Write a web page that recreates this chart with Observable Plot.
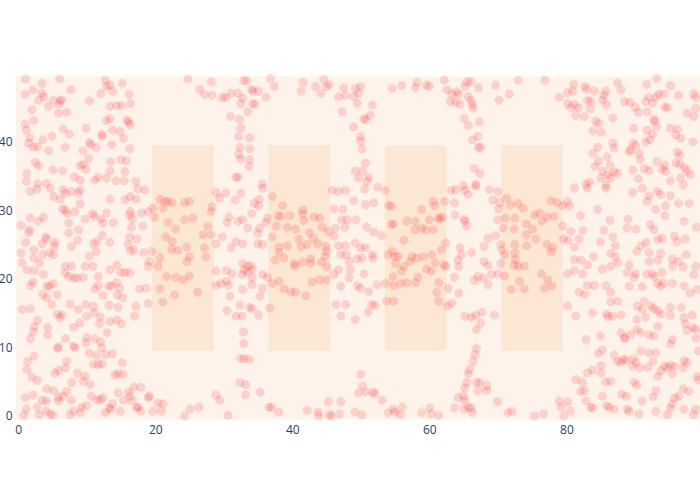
<!DOCTYPE html>
<html><head><meta charset="utf-8">
<script src="https://cdn.jsdelivr.net/npm/d3@7"></script>
<script src="https://cdn.jsdelivr.net/npm/@observablehq/plot@0.6"></script>
<style>body{margin:0;background:#fff;}</style>
</head><body><div id="chart"></div>
<script>
const xTicks = [0, 20, 40, 60, 80];
const yTicks = [0, 10, 20, 30, 40];
const rectX1 = [19.5, 36.5, 53.5, 70.5];
const rectX2 = [28.5, 45.5, 62.5, 79.5];
const rectY1 = [9.5, 9.5, 9.5, 9.5];
const rectY2 = [39.5, 39.5, 39.5, 39.5];

const ptsTopLeft = [[0.96,49.3],[3.38,48.65],[5.95,49.3],[12.58,49.14],[13.3,48.4],[15.1,48.65],[2.08,47.7],[0.96,47.05],[3.38,47.2],[2.9,46.2],[3.63,46.7],[5.08,46.2],[6.05,46.1],[6.3,46.2],[7.6,47.7],[10.3,46.1],[11.95,47.2],[12.8,48.2],[13.7,47.5],[16.1,47.05],[16.3,45.7],[13.3,45.3],[14.3,45.4],[15.0,45.4],[4.35,45.3],[5.8,45.6],[5.8,44.3],[7.0,44.4],[1.93,44.8],[0.96,42.7],[1.1,41.8],[2.2,43.2],[6.5,42.0],[7.4,41.2],[9.8,42.1],[12.1,41.2],[12.2,40.9],[12.8,43.2],[13.3,43.5],[13.7,41.8],[14.8,41.6],[15.3,40.6],[15.8,43.3],[16.0,43.0],[16.3,42.6],[1.6,40.7],[1.45,39.9],[2.1,39.3],[2.75,39.4],[3.5,40.4],[4.8,40.9],[4.35,38.8],[6.77,39.3],[9.4,38.8],[10.3,40.0],[10.5,39.7],[11.3,39.3],[13.55,39.7],[16.2,39.1],[10.2,37.7],[8.95,36.6],[9.4,36.8],[9.8,36.1],[2.4,37.1],[2.9,36.6],[5.0,36.0],[6.4,35.85],[8.1,35.0],[8.95,34.5],[11.1,34.5],[11.6,34.9],[12.8,34.8],[13.3,35.85],[13.4,37.2],[14.9,37.5],[15.7,37.3],[15.5,35.75],[14.2,34.4],[15.4,34.4],[1.2,35.5],[1.1,34.3],[2.75,34.0],[4.0,34.0],[17.1,34.3]];

const ptsTopMidLeft = [[24.7,49.3],[28.1,48.9],[26.4,47.8],[27.1,47.0],[28.2,46.9],[29.7,46.6],[30.2,46.6],[31.0,47.2],[32.0,47.2],[32.7,46.5],[32.4,45.7],[32.8,49.1],[33.3,49.0],[34.0,47.8],[34.2,47.5],[35.0,47.5],[34.1,45.7],[34.5,45.6],[33.4,44.5],[36.1,46.6],[36.7,49.4],[37.3,48.2],[41.2,47.5],[41.5,48.8],[43.3,48.2],[44.1,47.2],[44.9,48.2],[45.3,48.5],[44.5,49.3],[46.7,46.7],[47.4,48.0],[47.7,46.9],[47.2,44.5],[30.9,43.8],[32.2,43.4],[32.4,42.1],[32.1,40.9],[33.7,40.7],[32.3,39.3],[33.7,39.1],[32.1,38.3],[32.4,37.6],[33.7,37.5],[33.6,36.5],[31.7,34.9],[32.0,34.9],[35.5,33.9]];

const ptsTopMidRight = [[49.1,47.9],[49.9,48.2],[49.6,47.2],[48.9,46.7],[49.4,45.7],[51.6,45.5],[50.4,43.5],[50.6,43.3],[51.3,44.0],[48.9,42.3],[49.9,40.9],[49.9,40.2],[50.1,39.1],[50.6,37.0],[49.1,35.8],[50.2,35.8],[49.6,34.8],[51.1,34.9],[50.8,34.3],[54.5,47.9],[55.9,48.3],[58.1,48.8],[57.9,48.0],[59.5,48.4],[59.9,48.2],[62.1,49.1],[62.5,47.7],[63.2,47.1],[63.9,47.4],[64.2,47.0],[65.1,48.2],[65.4,48.9],[66.0,48.9],[67.1,48.0],[63.0,46.0],[63.7,45.9],[64.4,45.6],[65.6,46.7],[66.0,46.2],[66.2,45.6],[66.3,45.0],[69.6,48.4],[71.6,47.1],[70.1,46.2],[72.9,49.1],[65.0,43.5],[65.6,42.5],[67.2,43.0],[66.2,40.4],[67.0,40.9],[67.1,39.3],[67.4,39.3],[66.5,36.2],[67.3,35.5],[66.7,33.9],[64.9,33.7]];

const ptsTopRight = [[76.8,49.1],[81.0,48.5],[80.85,47.5],[80.1,47.3],[78.9,46.6],[80.1,45.7],[81.1,45.6],[80.6,45.1],[81.7,45.1],[81.3,44.0],[82.6,48.2],[82.9,47.8],[82.5,43.8],[83.0,46.2],[83.5,46.0],[83.4,44.9],[84.0,47.5],[85.4,46.9],[85.2,46.2],[85.7,47.5],[85.8,45.5],[86.7,43.6],[87.4,48.7],[87.9,47.7],[88.4,46.0],[89.2,45.9],[90.0,45.2],[90.4,44.4],[91.5,46.0],[92.0,46.6],[92.5,45.7],[93.0,46.6],[93.4,47.1],[94.2,47.1],[91.7,48.5],[93.1,49.4],[95.1,48.3],[96.3,46.9],[94.3,45.2],[94.65,45.1],[91.7,44.5],[92.8,43.1],[92.7,43.4],[98.5,47.1],[98.8,46.6],[98.8,45.0],[98.5,43.8],[97.55,44.3],[84.2,43.1],[84.7,42.8],[83.8,41.7],[85.0,41.5],[86.7,39.9],[86.9,39.2],[89.7,42.1],[91.7,41.8],[92.5,41.2],[93.1,42.3],[95.1,42.1],[96.1,42.0],[95.9,41.1],[96.6,40.6],[98.4,40.1],[89.6,39.9],[90.05,39.6],[89.3,38.9],[89.1,38.7],[90.5,38.4],[91.5,40.1],[92.1,40.4],[90.7,37.5],[84.5,39.3],[83.8,38.4],[85.9,37.9],[84.6,37.3],[84.1,36.5],[86.3,36.7],[85.2,35.8],[86.0,35.3],[86.9,35.7],[87.4,35.5],[86.4,34.8],[85.0,34.8],[85.7,33.8],[83.3,34.2],[82.8,33.9],[89.6,36.0],[90.4,34.7],[91.3,36.2],[92.0,35.9],[93.1,37.2],[94.3,36.7],[93.9,36.1],[94.4,35.8],[96.1,38.6],[96.5,38.1],[95.9,37.0],[96.5,36.8],[97.2,36.3],[97.5,35.8],[95.1,34.4],[96.6,34.8],[97.0,33.8],[98.0,35.3]];

const ptsMidLeft = [[1.7,32.85],[2.66,33.2],[4.6,33.3],[6.5,33.1],[6.8,32.6],[7.7,32.85],[8.95,33.1],[8.7,32.6],[5.1,32.1],[6.05,31.7],[8.95,31.05],[13.3,31.7],[15.5,31.6],[16.2,32.1],[17.1,31.7],[17.4,33.2],[18.4,33.1],[20.6,31.7],[21.3,31.4],[21.8,31.4],[22.4,31.2],[21.05,30.4],[6.8,30.1],[7.1,29.6],[8.2,29.9],[6.4,30.3],[9.7,28.8],[10.8,29.6],[11.0,29.2],[12.0,28.8],[12.8,29.7],[13.8,28.3],[12.3,28.2],[16.3,29.9],[16.2,29.4],[16.6,28.8],[17.9,29.7],[18.9,29.9],[19.6,30.4],[19.8,29.1],[18.1,27.8],[16.45,27.6],[21.8,28.3],[22.9,27.35],[21.5,26.2],[22.4,25.5],[1.7,28.95],[2.9,28.5],[3.6,29.1],[0.33,27.85],[1.6,27.25],[1.45,26.8],[7.3,28.2],[7.3,26.8],[8.7,27.2],[3.9,26.2],[4.1,25.9],[1.0,25.4],[3.4,25.2],[5.3,25.4],[5.2,24.8],[7.7,24.8],[8.6,25.7],[11.4,25.5],[10.9,25.2],[12.2,26.4],[13.3,25.4],[16.0,25.1],[16.2,26.2],[17.2,25.9],[16.3,24.1],[16.8,24.3],[18.2,23.9],[19.4,24.1],[22.3,24.4],[23.2,24.2],[20.6,23.1],[19.0,22.6],[18.9,21.9],[20.3,21.9],[0.33,23.85],[0.48,22.4],[2.2,24.3],[2.2,23.1],[3.05,22.4],[3.5,23.6],[4.5,23.9],[5.0,23.6],[10.3,23.35],[11.3,24.1],[9.7,21.9],[10.8,21.9],[13.3,21.4],[14.3,22.1],[14.9,21.0],[15.5,21.0],[16.2,21.0],[6.77,21.9],[7.7,21.9],[6.77,20.9],[7.3,20.4],[8.0,20.2],[8.5,20.2],[9.4,20.3],[11.6,20.4],[1.2,21.4],[2.3,21.3],[3.6,20.7],[1.7,19.1],[2.1,19.6],[4.1,19.0],[4.5,19.0],[5.0,19.4],[3.5,17.75],[4.1,17.3],[5.6,17.75],[11.1,18.6],[11.6,19.1],[12.3,17.6],[13.1,19.0],[13.55,19.0],[14.3,19.5],[14.7,18.7],[14.4,17.75],[15.2,17.3],[17.6,18.6],[18.6,18.7],[21.6,20.4],[22.9,20.3],[22.75,17.75],[20.6,18.6]];

const ptsMidMidLeft = [[24.9,31.4],[24.2,31.2],[28.8,32.7],[30.2,32.6],[29.3,31.9],[28.2,30.6],[28.1,29.9],[31.6,31.6],[32.4,32.6],[34.4,31.1],[35.1,31.7],[35.0,30.75],[35.6,33.3],[37.0,32.1],[34.0,29.6],[30.7,29.1],[30.4,28.3],[32.0,28.5],[32.7,28.7],[33.4,27.5],[35.1,27.5],[34.9,26.7],[36.3,28.95],[36.0,28.3],[38.5,30.75],[38.3,29.2],[37.8,29.3],[39.6,29.3],[37.6,27.8],[39.2,27.6],[40.4,27.35],[41.5,30.1],[41.6,28.6],[41.4,29.6],[43.1,29.1],[43.9,28.95],[44.3,27.6],[45.2,27.0],[42.4,26.8],[40.9,25.9],[42.1,25.1],[41.2,24.8],[43.0,26.0],[43.6,25.2],[45.75,33.0],[46.7,32.85],[47.7,33.0],[46.0,30.3],[47.3,30.2],[46.2,27.5],[47.6,27.6],[47.1,28.7],[47.9,28.7],[46.0,26.3],[46.7,24.9],[47.7,24.9],[47.0,23.6],[47.8,23.6],[48.2,22.6],[25.4,28.95],[24.2,28.7],[27.6,27.7],[26.9,26.5],[28.1,26.5],[28.8,25.2],[29.7,26.2],[31.0,24.6],[31.7,25.5],[32.7,25.2],[34.9,25.2],[35.6,25.1],[37.0,26.2],[24.5,24.7],[27.1,24.6],[27.3,23.3],[24.9,23.3],[24.5,22.6],[38.0,24.7],[39.2,24.9],[38.0,23.9],[37.4,22.8],[38.7,23.1],[40.2,22.3],[40.3,21.9],[41.4,22.5],[42.6,23.0],[42.6,22.3],[44.2,22.5],[44.8,24.8],[44.9,24.1],[44.7,23.35],[45.0,21.8],[28.8,21.2],[30.3,21.3],[31.1,20.8],[32.7,22.3],[33.4,21.9],[33.9,22.0],[34.1,21.4],[32.6,20.7],[34.1,20.2],[35.6,20.7],[36.3,20.3],[37.0,19.4],[38.0,19.7],[38.7,18.6],[39.7,18.2],[40.4,18.1],[41.9,17.6],[42.8,19.6],[43.9,19.9],[44.9,19.9],[46.0,20.7],[47.0,19.0],[48.2,20.2],[48.4,21.4],[46.7,21.4],[24.9,20.5],[24.0,19.9],[26.1,18.1],[28.8,19.1],[29.5,19.4],[30.6,19.1],[30.8,17.5],[30.3,19.7],[32.7,18.5],[34.0,19.2],[35.6,18.7],[35.2,17.5],[32.9,21.4],[33.4,21.0]];

const ptsMidMidRight = [[50.5,33.2],[52.4,33.5],[53.5,33.0],[48.9,31.5],[50.6,30.9],[51.8,31.2],[54.0,30.8],[54.4,30.7],[60.5,31.4],[60.7,30.75],[62.2,31.4],[63.6,31.2],[63.1,33.0],[63.8,33.1],[65.1,33.0],[65.6,32.4],[66.7,33.6],[68.7,33.1],[69.95,32.85],[69.2,31.6],[70.2,31.2],[71.2,31.9],[71.8,30.9],[72.9,31.1],[70.05,30.3],[58.8,30.2],[56.65,28.5],[57.9,28.5],[57.8,27.25],[58.8,27.5],[59.4,27.2],[59.9,28.7],[60.5,27.25],[61.2,28.95],[61.5,28.8],[61.8,29.1],[63.7,29.4],[65.1,28.5],[65.4,27.85],[65.0,28.8],[49.2,28.7],[50.8,27.6],[51.8,26.9],[52.9,26.4],[54.4,28.0],[54.7,28.1],[56.2,25.7],[57.4,23.3],[59.1,23.3],[60.3,23.6],[61.7,24.3],[62.3,25.3],[62.1,22.1],[64.4,24.6],[64.6,23.6],[64.1,22.8],[64.2,21.9],[66.1,23.9],[67.9,24.8],[68.5,26.0],[69.6,26.4],[69.9,28.7],[71.0,28.95],[72.4,28.95],[70.7,27.5],[72.3,27.35],[70.35,25.1],[70.5,24.3],[70.9,23.6],[72.4,25.1],[72.4,23.85],[72.3,22.1],[72.9,21.9],[72.5,22.9],[70.35,22.3],[67.9,22.6],[68.5,22.0],[69.0,20.7],[69.95,20.8],[67.8,20.2],[68.5,19.2],[67.0,20.4],[66.5,19.85],[49.1,25.3],[49.9,24.6],[50.6,24.6],[51.6,23.6],[51.7,23.1],[49.4,23.0],[50.1,23.1],[50.4,20.8],[53.9,23.6],[54.5,24.1],[54.9,23.35],[55.4,23.35],[55.0,22.3],[57.1,22.6],[55.9,21.2],[56.2,21.9],[58.1,23.1],[59.5,21.5],[60.8,22.4],[60.2,21.2],[62.3,21.9],[61.3,19.5],[62.7,18.7],[64.2,18.0],[63.6,20.3],[58.3,20.3],[57.9,19.5],[56.65,19.5],[55.7,19.4],[54.6,20.4],[54.7,19.1],[53.5,19.4],[52.3,19.2],[49.4,19.1],[49.9,18.7],[51.1,18.2],[61.0,18.1],[73.1,19.7],[71.9,18.5],[70.9,20.5]];

const ptsMidRight = [[73.6,30.4],[75.3,29.4],[76.0,29.7],[76.4,28.5],[77.1,29.1],[78.1,29.2],[77.7,31.5],[78.6,31.2],[79.4,30.75],[80.1,31.4],[80.4,30.7],[81.1,33.3],[83.0,33.3],[85.7,33.3],[74.1,28.1],[75.0,27.35],[74.1,26.5],[75.5,25.9],[77.1,25.1],[77.95,24.6],[77.7,24.0],[74.1,24.9],[79.4,27.8],[80.6,27.0],[79.5,25.9],[80.2,25.7],[81.8,25.9],[82.3,27.15],[82.0,29.3],[84.5,30.2],[86.3,28.6],[85.4,27.15],[86.7,26.2],[87.1,24.9],[84.9,25.4],[81.1,24.7],[81.1,22.9],[82.1,22.8],[83.0,22.1],[83.9,23.3],[86.4,23.8],[87.1,23.3],[87.4,22.4],[89.1,22.1],[88.8,21.0],[90.05,20.8],[89.8,20.3],[91.7,20.7],[90.2,24.1],[90.8,24.9],[91.6,25.4],[92.0,23.9],[92.0,22.6],[93.3,22.8],[93.9,21.0],[95.4,21.9],[95.4,22.97],[96.97,21.8],[96.3,22.6],[98.8,21.9],[98.5,20.7],[88.9,28.8],[90.05,27.35],[88.8,27.5],[89.6,32.7],[91.0,33.3],[91.7,31.4],[92.0,32.2],[92.95,30.2],[93.2,32.85],[93.7,32.4],[94.4,30.75],[94.3,29.3],[95.1,32.2],[96.3,31.1],[97.1,28.5],[97.8,31.1],[98.9,27.6],[92.2,28.0],[92.7,27.25],[93.3,25.8],[93.9,26.0],[95.7,26.3],[97.3,25.9],[96.1,25.5],[93.7,23.8],[97.4,23.6],[85.2,21.5],[86.4,21.9],[80.1,20.8],[81.1,21.3],[82.3,20.8],[76.3,20.8],[73.8,21.9],[77.2,19.9],[73.8,18.6],[76.7,18.7],[77.8,19.0],[83.0,19.1],[84.0,19.1],[85.7,19.1],[81.8,18.1],[82.6,17.75],[86.4,18.1],[89.1,19.0],[91.0,18.9],[93.2,19.4],[93.7,19.0],[94.1,19.5],[95.4,19.4],[97.1,19.0],[98.0,18.0],[99.0,18.5],[92.5,20.8],[92.8,20.4]];

const ptsBottomLeft = [[0.48,15.6],[1.69,15.7],[4.8,16.3],[7.5,16.4],[8.7,15.6],[9.8,16.3],[10.9,16.05],[11.0,15.1],[11.9,14.5],[13.2,16.2],[14.5,15.9],[17.1,16.05],[16.9,14.6],[18.9,16.5],[21.0,16.7],[5.6,14.9],[6.3,14.8],[6.0,14.4],[2.7,14.0],[2.3,13.1],[2.1,12.3],[1.7,11.3],[4.2,13.0],[4.2,11.9],[8.0,13.0],[8.9,13.6],[9.9,14.6],[11.8,13.5],[13.3,13.8],[14.3,14.0],[15.0,13.5],[12.9,12.2],[6.8,11.3],[5.8,10.1],[5.6,9.9],[8.0,10.2],[8.2,10.0],[9.9,11.5],[9.8,10.7],[11.1,11.3],[11.95,10.85],[12.1,10.0],[10.3,9.2],[11.4,8.9],[12.7,9.0],[13.7,9.1],[2.2,8.75],[1.3,8.0],[1.2,6.8],[1.9,5.7],[2.7,5.2],[5.3,6.3],[5.8,6.7],[7.0,8.0],[6.8,7.05],[8.6,6.3],[9.7,5.8],[9.4,5.1],[10.4,4.6],[7.7,4.9],[10.9,7.6],[11.6,7.5],[12.2,7.6],[15.1,7.8],[14.5,6.2],[15.2,6.1],[14.0,6.0],[16.8,4.2],[17.8,4.2],[19.1,2.9],[18.9,2.7],[20.3,1.9],[21.05,1.8],[20.8,0.7],[19.6,0.7],[4.1,4.0],[5.1,3.7],[5.8,2.7],[7.0,3.6],[6.5,2.9],[7.7,2.3],[8.0,0.7],[0.97,2.7],[1.1,1.0],[0.7,0.1],[2.1,3.1],[2.7,1.3],[3.0,0.2],[3.4,2.3],[4.0,2.2],[4.0,0.7],[4.6,0.3],[5.0,0.1],[5.8,2.2],[9.2,1.3],[10.6,2.9],[11.4,2.3],[11.9,2.4],[12.3,2.7],[13.2,1.2],[13.4,1.0],[12.6,0.5],[13.7,1.8],[14.5,3.4],[15.3,2.3],[16.0,3.5],[16.3,2.9],[16.5,2.2],[17.2,1.2],[17.4,1.3],[17.8,0.7],[14.8,0.7],[9.9,1.5],[8.95,0.5],[7.5,0.2]];

const ptsBottomMidLeft = [[30.4,15.4],[31.7,14.6],[32.6,14.6],[32.3,16.2],[33.65,15.9],[34.1,15.7],[35.0,14.75],[36.6,15.8],[32.8,12.3],[32.8,10.6],[32.4,8.4],[32.9,8.4],[33.65,8.3],[32.3,4.9],[33.1,4.6],[33.1,3.1],[35.2,3.5],[28.8,3.1],[29.3,2.3],[25.0,1.0],[26.3,1.3],[24.2,0.0],[30.5,0.1],[36.5,1.3],[36.9,1.3],[37.9,0.6],[42.1,0.8],[43.7,0.6],[43.8,0.0],[45.3,0.2],[45.65,0.0],[46.8,0.3],[45.2,2.1],[47.0,2.1],[46.3,16.3],[47.7,16.3],[47.0,14.6]];

const ptsBottomMidRight = [[49.1,14.1],[51.0,15.2],[51.5,16.3],[52.0,16.2],[53.7,16.8],[54.7,16.8],[61.3,16.8],[62.6,16.1],[63.2,16.5],[65.1,14.6],[66.1,14.4],[66.7,14.75],[67.6,15.2],[67.4,13.6],[69.4,14.8],[66.8,12.65],[66.8,9.9],[66.6,9.0],[66.3,8.0],[65.8,6.8],[65.6,6.2],[65.4,4.9],[65.1,4.1],[66.8,4.9],[67.3,4.9],[68.3,4.4],[68.3,3.7],[67.05,3.7],[64.15,2.7],[64.9,2.9],[65.1,2.3],[65.6,1.3],[66.0,1.2],[65.0,1.0],[66.2,0.5],[63.6,1.2],[69.9,2.1],[71.4,0.5],[72.0,0.7],[49.9,6.1],[50.2,4.4],[49.6,3.4],[50.7,3.5],[51.7,3.5],[52.0,3.25],[53.0,2.3],[49.05,0.6],[50.1,0.2],[53.9,0.5],[54.7,1.0],[54.9,0.6],[55.7,0.2],[56.0,1.3],[58.8,0.5],[60.0,1.2],[60.2,0.3],[61.3,0.1]];

const ptsBottomRight = [[80.1,16.1],[81.3,14.6],[83.75,15.1],[85.8,14.9],[86.0,14.5],[86.7,14.6],[87.9,14.8],[90.3,16.1],[91.0,15.6],[91.5,14.5],[92.7,15.7],[93.3,15.4],[93.7,14.9],[95.1,15.9],[95.1,14.75],[96.7,15.9],[97.1,14.4],[97.3,13.5],[98.3,14.75],[98.8,12.65],[86.4,16.7],[87.4,16.8],[90.2,14.1],[91.3,16.8],[92.3,16.1],[82.8,11.2],[84.9,11.7],[85.2,9.7],[84.6,9.2],[87.9,12.2],[88.4,11.5],[89.3,11.9],[88.45,11.3],[90.2,12.65],[90.8,12.2],[92.0,11.9],[92.7,11.7],[93.3,13.1],[95.4,11.2],[95.1,10.55],[97.55,12.5],[98.4,12.9],[98.8,11.4],[99.2,9.5],[86.9,8.9],[87.4,8.0],[87.9,7.9],[88.3,8.3],[88.7,8.1],[89.7,8.4],[90.05,7.8],[89.6,7.3],[90.7,7.05],[91.8,7.15],[90.8,9.5],[92.0,9.25],[93.0,9.25],[92.6,8.0],[94.2,7.3],[93.7,6.6],[93.3,5.8],[95.1,7.4],[95.4,6.2],[94.65,7.05],[95.7,7.3],[97.1,8.1],[96.97,7.05],[97.55,7.8],[99.0,5.8],[99.2,5.3],[83.0,6.3],[85.0,7.4],[83.75,6.7],[85.0,6.3],[81.3,5.35],[82.3,4.9],[82.55,3.7],[82.0,3.6],[85.7,5.0],[86.4,5.1],[88.0,3.2],[88.7,2.9],[89.8,5.0],[90.2,4.5],[91.0,2.2],[92.6,2.8],[93.0,3.7],[95.7,2.6],[96.3,2.9],[96.97,4.0],[97.8,3.6],[95.1,1.2],[95.4,1.8],[97.1,1.0],[98.5,0.2],[98.8,1.0],[85.8,1.5],[86.2,1.3],[86.9,1.0],[88.8,1.0],[89.1,0.7],[90.5,0.3],[93.0,0.7],[94.65,0.2],[78.9,2.2],[80.1,2.1],[79.2,1.3],[80.5,0.7],[79.5,0.0],[83.5,1.3],[83.75,1.2],[85.2,2.9],[82.8,2.2],[75.3,0.0],[76.6,0.3]];

const points = [
  ...ptsTopLeft, ...ptsTopMidLeft, ...ptsTopMidRight, ...ptsTopRight,
  ...ptsMidLeft, ...ptsMidMidLeft, ...ptsMidMidRight, ...ptsMidRight,
  ...ptsBottomLeft, ...ptsBottomMidLeft, ...ptsBottomMidRight, ...ptsBottomRight
].map(([x, y]) => ({x, y}));

const rects = rectX1.map((d, i) => ({x1: d, x2: rectX2[i], y1: rectY1[i], y2: rectY2[i]}));

const chart = Plot.plot({
  width: 700, height: 500,
  marginLeft: 15, marginRight: 0, marginTop: 76, marginBottom: 81,
  style: {fontFamily: "'Open Sans', sans-serif", fontSize: "12px", color: "#2a3f5f", background: "#ffffff"},
  x: {domain: [-0.48, 99.5], label: null},
  y: {domain: [-0.5, 49.66], label: null},
  marks: [
    Plot.frame({fill: "#fdf3ea", stroke: null}),
    Plot.rect(rects, {x1: "x1", x2: "x2", y1: "y1", y2: "y2", fill: "#fce7d4"}),
    Plot.dot(points, {x: "x", y: "y", r: 4.5, fill: "#ff0000", fillOpacity: 0.14, stroke: null}),
    Plot.axisX({ticks: xTicks, tickSize: 0, tickPadding: 6, label: null, fill: "#2a3f5f"}),
    Plot.axisY({ticks: yTicks, tickSize: 0, tickPadding: 3, label: null, fill: "#2a3f5f"})
  ]
});
document.getElementById("chart").appendChild(chart);
</script>
</body></html>
